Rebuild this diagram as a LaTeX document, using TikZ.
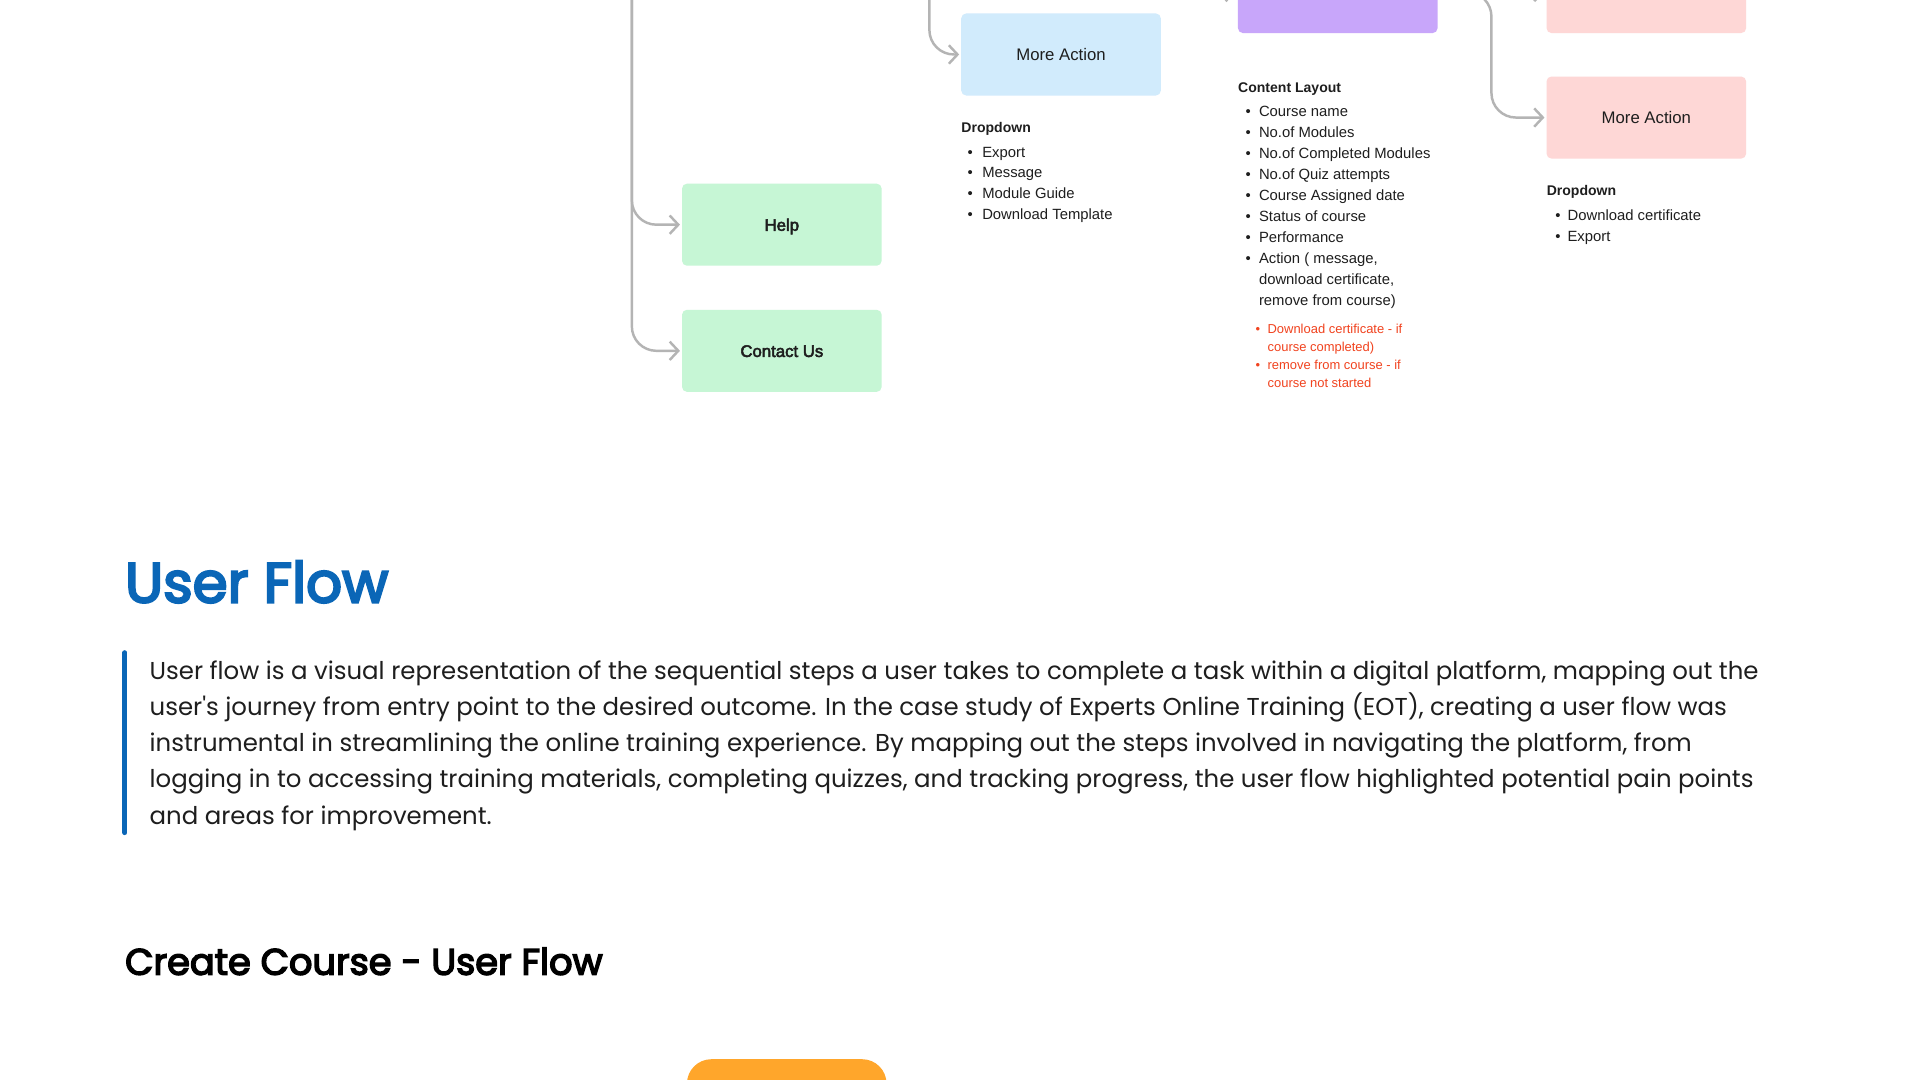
\documentclass[tikz,border=0pt]{standalone}
\usepackage{fontspec}
\usetikzlibrary{arrows.meta,calc}
\setmainfont{Liberation Sans}
\newfontfamily\uifont{Liberation Sans}
\newfontfamily\uimed[FakeBold=3]{Liberation Sans}
\newfontfamily\parfont{Poppins}
\newfontfamily\popsemi[FakeBold=4]{Poppins}
\definecolor{txt}{HTML}{1E1E1E}
\definecolor{cgray}{HTML}{B4B4B4}
\definecolor{ublue}{HTML}{0A66B7}
\definecolor{redtxt}{HTML}{F1431F}
\definecolor{fgreen}{HTML}{C6F6D5}
\definecolor{fblue}{HTML}{D1EBFC}
\definecolor{fpurple}{HTML}{C8A6FA}
\definecolor{fpink}{HTML}{FED7D6}
\definecolor{forange}{HTML}{FFA62B}
\newlength\fitlen
\newcommand\fitsize[4]{\settowidth\fitlen{#2\fontsize{10}{12}\selectfont #4}\pgfmathsetmacro#1{10*#3/\fitlen}}
\fitsize\sPar{\parfont}{1314}{User flow is a visual representation of the sequential steps a user takes to complete a task within a digital platform, mapping out the}
\fitsize\sTitle{\popsemi}{215}{User Flow}
\fitsize\sSub{\popsemi}{390}{Create Course - User Flow}
\fitsize\sItem{\uifont}{140}{No.of Completed Modules}
\fitsize\sHead{\uifont\bfseries}{84}{Content Layout}
\fitsize\sBox{\uifont}{73}{More Action}
\fitsize\sRed{\uifont}{110}{Download certificate - if}
\tikzset{
  box/.style={minimum width=163pt, minimum height=67pt, rounded corners=4pt, inner sep=0pt, text=txt, text height=10pt, text depth=0pt},
  conn/.style={draw=cgray, line width=2pt, rounded corners=20pt, -{Straight Barb[length=7pt,width=15pt]}, shorten >=1.5pt},
  item/.style={anchor=base west, inner sep=0pt, text=txt, font=\uifont\fontsize{\sItem}{14}\selectfont},
  head/.style={anchor=base west, inner sep=0pt, text=txt, font=\uifont\bfseries\fontsize{\sHead}{14}\selectfont},
  reditem/.style={anchor=base west, inner sep=0pt, text=redtxt, font=\uifont\fontsize{\sRed}{12}\selectfont},
  parline/.style={anchor=base west, inner sep=0pt, text=txt, font=\parfont\fontsize{\sPar}{29}\selectfont},
}
\begin{document}
\begin{tikzpicture}[x=1pt,y=-1pt]
\useasboundingbox (0,0) rectangle (1568,882);
\fill[white] (0,0) rectangle (1568,882);
\begin{scope}
\clip (0,0) rectangle (1568,882);
% boxes
\node[box, fill=fgreen, font=\uimed\fontsize{\sBox}{16}\selectfont] (help) at (638.5,183.5) {Help};
\node[box, fill=fgreen, font=\uimed\fontsize{\sBox}{16}\selectfont] (contact) at (638.5,286.5) {Contact Us};
\node[box, fill=fblue, font=\uifont\fontsize{\sBox}{16}\selectfont] (ma1) at (866.5,44.5) {More Action};
\node[box, fill=fpurple] (purple) at (1092.5,-6.5) {};
\node[box, fill=fpink] (pinktop) at (1344.5,-6.5) {};
\node[box, fill=fpink, font=\uifont\fontsize{\sBox}{16}\selectfont] (ma2) at (1344.5,96) {More Action};
\node[box, fill=forange, rounded corners=20pt] (orange) at (642.5,898.5) {};
% connectors
\coordinate (t1) at (516,-10);
\coordinate (t2) at (759,-10);
\coordinate (pin) at (940,-6.5);
\coordinate (px) at (1218,0);
\draw[conn] (t1) |- (help.west);
\draw[conn] (t1) |- (contact.west);
\draw[conn] (t2) |- (ma1.west);
\draw[conn] (pin) -- (purple.west);
\draw[conn] (purple.east) -- (pinktop.west);
\draw[conn] (purple.east) -- (purple.east -| px) |- (ma2.west);
% dropdown under blue
\node[head] (dd) at (785,108.3) {Dropdown};
\foreach \t [count=\i from 0] in {Export, Message, Module Guide, Download Template}
  \node[item] (dd\i) at (790,128.3+17*\i) {\makebox[12pt][l]{•}\t};
% content layout
\node[head] (cl) at (1011,75.3) {Content Layout};
\foreach \t [count=\i from 0] in {Course name, No.of Modules, No.of Completed Modules, No.of Quiz attempts, Course Assigned date, Status of course, Performance, {Action ( message,}}
  \node[item] (cl\i) at (1017,95.3+17.1*\i) {\makebox[11pt][l]{•}\t};
\node[item] (cl8) at (1028,232.1) {download certificate,};
\node[item] (cl9) at (1028,249.2) {remove from course)};
\node[reditem] (r1) at (1025.3,272.6) {\makebox[9.7pt][l]{•}Download certificate - if};
\node[reditem] (r2) at (1035,287.4) {course completed)};
\node[reditem] (r3) at (1025.3,301.9) {\makebox[9.7pt][l]{•}remove from course - if};
\node[reditem] (r4) at (1035,316.6) {course not started};
% dropdown under pink
\node[head] (pd) at (1263,159.3) {Dropdown};
\node[item] (pd1) at (1270,179.8) {\makebox[10pt][l]{•}Download certificate};
\node[item] (pd2) at (1270,197) {\makebox[10pt][l]{•}Export};
% text section
\node[anchor=base west, inner sep=0pt, text=ublue, font=\popsemi\fontsize{\sTitle}{50}\selectfont] (title) at (102,492) {User Flow};
\draw[ublue, line width=4pt, line cap=round] (102,533) -- (102,680);
\node[parline] (p1) at (122,555) {User flow is a visual representation of the sequential steps a user takes to complete a task within a digital platform, mapping out the};
\node[parline] (p2) at (122,584.5) {user's journey from entry point to the desired outcome. In the case study of Experts Online Training (EOT), creating a user flow was};
\node[parline] (p3) at (122,614) {instrumental in streamlining the online training experience. By mapping out the steps involved in navigating the platform, from};
\node[parline] (p4) at (122,643.5) {logging in to accessing training materials, completing quizzes, and tracking progress, the user flow highlighted potential pain points};
\node[parline] (p5) at (122,673) {and areas for improvement.};
\node[anchor=base west, inner sep=0pt, text=black, font=\popsemi\fontsize{\sSub}{36}\selectfont] (sub) at (102,796) {Create Course - User Flow};
\end{scope}
\end{tikzpicture}
\end{document}
